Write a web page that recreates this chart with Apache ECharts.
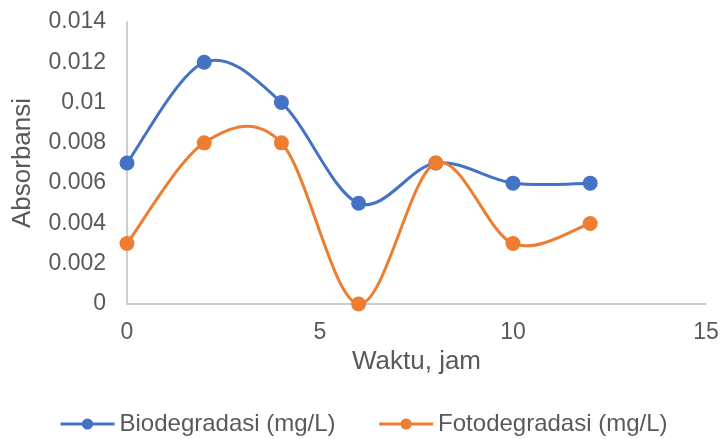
<!DOCTYPE html>
<html><head><meta charset="utf-8">
<script src="https://cdn.jsdelivr.net/npm/echarts@6/dist/echarts.min.js"></script>
<style>html,body{margin:0;padding:0;background:#fff}#c{width:722px;height:439px}</style>
</head><body><div id="c"></div>
<script>
const xValues = [0, 2, 4, 6, 8, 10, 12];
const bioValues = [0.007, 0.012, 0.010, 0.005, 0.007, 0.006, 0.006];
const fotoValues = [0.003, 0.008, 0.008, 0.000, 0.007, 0.003, 0.004];
const seriesNames = ['Biodegradasi (mg/L)', 'Fotodegradasi (mg/L)'];
const colors = ['#4472C4', '#ED7D31'];

const chart = echarts.init(document.getElementById('c'));
const font = 'Arial, "Liberation Sans", sans-serif';
const txt = '#595959';

// Excel-like smoothed curve: Catmull-Rom style Bezier segments through data points mapped by the axes
function curveSeries(ys, color, z) {
  const n = xValues.length;
  return {
    type: 'custom', z: z, silent: true,
    data: xValues.slice(0, n - 1).map((x, i) => [x, ys[i]]),
    renderItem: function (params, api) {
      const i = params.dataIndex;
      const P = k => {
        const kk = Math.max(0, Math.min(n - 1, k));
        return api.coord([xValues[kk], ys[kk]]);
      };
      const p0 = P(i - 1), p1 = P(i), p2 = P(i + 1), p3 = P(i + 2);
      return {
        type: 'bezierCurve',
        shape: {
          x1: p1[0], y1: p1[1], x2: p2[0], y2: p2[1],
          cpx1: p1[0] + (p2[0] - p0[0]) / 6, cpy1: p1[1] + (p2[1] - p0[1]) / 6,
          cpx2: p2[0] - (p3[0] - p1[0]) / 6, cpy2: p2[1] - (p3[1] - p1[1]) / 6
        },
        style: {stroke: color, lineWidth: 3, fill: null, lineCap: 'round'}
      };
    }
  };
}
function markerSeries(name, ys, color, z) {
  return {
    name: name, type: 'line', z: z,
    data: xValues.map((x, i) => [x, ys[i]]),
    symbol: 'circle', symbolSize: 15,
    lineStyle: {width: 3, color: color, opacity: 0},
    itemStyle: {color: color}
  };
}

chart.setOption({
  animation: false,
  textStyle: {fontFamily: font},
  grid: {left: 127, right: 16, top: 22, bottom: 135},
  legend: {
    bottom: -2, left: 54, itemGap: 42, itemWidth: 54, itemHeight: 14,
    textStyle: {fontSize: 24, color: txt, fontFamily: font},
    data: seriesNames.map((nm, i) => ({
      name: nm,
      lineStyle: {color: colors[i], width: 3, opacity: 1},
      itemStyle: {color: colors[i]}
    }))
  },
  xAxis: {
    type: 'value', min: 0, max: 15, interval: 5,
    name: 'Waktu, jam', nameLocation: 'middle', nameGap: 43,
    nameTextStyle: {fontSize: 26, color: txt},
    axisLine: {show: true, lineStyle: {color: '#BFBFBF', width: 1.5}},
    axisTick: {show: false},
    splitLine: {show: false},
    axisLabel: {fontSize: 23, color: txt, margin: 17}
  },
  yAxis: {
    type: 'value', min: 0, max: 0.014, interval: 0.002,
    name: 'Absorbansi', nameLocation: 'middle', nameGap: 91,
    nameTextStyle: {fontSize: 26, color: txt},
    axisLine: {show: true, lineStyle: {color: '#BFBFBF', width: 1.5}},
    axisTick: {show: false},
    splitLine: {show: false},
    axisLabel: {fontSize: 23, color: txt, margin: 21,
      formatter: v => v === 0 ? '0' : String(+v.toFixed(3))}
  },
  series: [
    curveSeries(bioValues, colors[0], 2),
    markerSeries(seriesNames[0], bioValues, colors[0], 3),
    curveSeries(fotoValues, colors[1], 4),
    markerSeries(seriesNames[1], fotoValues, colors[1], 5)
  ]
});
</script></body></html>
